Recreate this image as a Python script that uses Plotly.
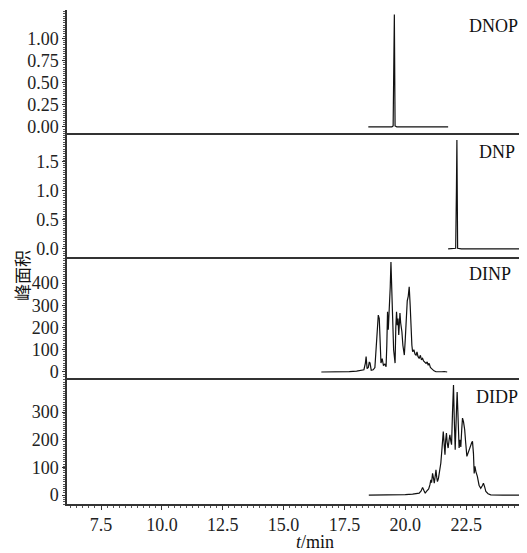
import plotly.graph_objects as go
from plotly.subplots import make_subplots

# ---- data ----
dnop_t = [18.48, 19.0, 19.45, 19.5, 19.52, 19.55, 19.58, 19.65, 20.5, 21.76]
dnop_y = [0.0, 0.0, 0.0, 0.01, 0.5, 1.27, 0.01, 0.0, 0.0, 0.0]

dnp_t = [21.76, 22.0, 22.07, 22.1, 22.12, 22.15, 22.3, 25.0]
dnp_y = [0.0, 0.0, 0.01, 1.0, 1.88, 0.01, 0.0, 0.0]

dinp_t = [16.55, 17.4, 17.7, 18.0, 18.2, 18.3, 18.36, 18.39, 18.43, 18.48, 18.52, 18.55,
          18.6, 18.68, 18.75, 18.8, 18.85, 18.89, 18.93, 18.96, 19.0, 19.05, 19.1, 19.16,
          19.21, 19.24, 19.27, 19.3, 19.34, 19.38, 19.41, 19.44, 19.48, 19.52, 19.55, 19.58,
          19.61, 19.64, 19.67, 19.7, 19.73, 19.76, 19.78, 19.81, 19.86, 19.9, 19.93, 19.96,
          20.0, 20.05, 20.08, 20.12, 20.16, 20.2, 20.23, 20.27, 20.3, 20.35, 20.4, 20.44,
          20.48, 20.52, 20.57, 20.62, 20.66, 20.71, 20.75, 20.8, 20.85, 20.9, 20.94, 20.98,
          21.03, 21.08, 21.12, 21.18, 21.26, 21.4, 21.5, 21.6, 21.72]
dinp_y = [0, 0, 2, 4, 6, 10, 40, 69, 15, 20, 45, 40,
          8, 10, 20, 120, 230, 256, 240, 120, 40, 60, 30, 35,
          24, 120, 271, 190, 260, 380, 494, 340, 243, 100, 60, 40,
          200, 271, 210, 240, 166, 230, 265, 220, 181, 120, 100, 76,
          150, 286, 320, 340, 383, 300, 181, 120, 91, 100, 80, 76,
          90, 70, 61, 75, 55, 61, 50, 45, 39, 45, 30, 39,
          20, 15, 9, 5, 1, 3, 1, 2, 0]

didp_t = [18.5, 19.5, 20.0, 20.3, 20.57, 20.65, 20.71, 20.76, 20.82, 20.87, 20.91, 20.96,
          21.01, 21.05, 21.08, 21.12, 21.16, 21.19, 21.23, 21.26, 21.29, 21.32, 21.36, 21.39,
          21.43, 21.46, 21.5, 21.53, 21.56, 21.6, 21.63, 21.66, 21.69, 21.72, 21.76, 21.8,
          21.83, 21.87, 21.9, 21.94, 21.98, 22.01, 22.05, 22.1, 22.13, 22.16, 22.19, 22.21,
          22.25, 22.28, 22.32, 22.35, 22.39, 22.42, 22.44, 22.48, 22.53, 22.57, 22.62, 22.68,
          22.73, 22.76, 22.8, 22.83, 22.86, 22.9, 22.96, 23.03, 23.1, 23.17, 23.21, 23.26,
          23.31, 23.4, 23.51, 24.0, 25.0]
didp_y = [0, 0, 2, 4, 7, 15, 28, 18, 7, 14, 19, 22,
          37, 55, 45, 79, 60, 43, 70, 91, 65, 49, 60, 73,
          95, 116, 160, 210, 230, 180, 146, 200, 224, 190, 170, 200,
          218, 195, 182, 300, 398, 280, 164, 300, 372, 300, 200, 170,
          200, 174, 240, 278, 265, 250, 236, 190, 140, 150, 164, 175,
          190, 194, 150, 78, 104, 85, 68, 36, 25, 35, 43, 30,
          13, 5, 1, 0, 0]

names = ["DNOP", "DNP", "DINP", "DIDP"]
series = [(dnop_t, dnop_y), (dnp_t, dnp_y), (dinp_t, dinp_y), (didp_t, didp_y)]
y_ticks = [[0.0, 0.25, 0.5, 0.75, 1.0], [0.0, 0.5, 1.0, 1.5], [0, 100, 200, 300, 400], [0, 100, 200, 300]]
y_fmt = [".2f", ".1f", "d", "d"]
y_ranges = [[-0.07, 1.32], [-0.14, 2.0], [-27, 517], [-32, 423]]
y_minor = [0.025, 0.04, 10, 8]
x_ticks = [7.5, 10.0, 12.5, 15.0, 17.5, 20.0, 22.5]

fig = make_subplots(rows=4, cols=1, shared_xaxes=True, vertical_spacing=0)

for i, (t, y) in enumerate(series):
    fig.add_trace(go.Scatter(x=t, y=y, mode="lines", line=dict(color="#111", width=1.2),
                             showlegend=False), row=i + 1, col=1)

domains = [[0.751, 1.0], [0.5, 0.751], [0.2551, 0.5], [0.0, 0.2551]]
font_serif = "Liberation Serif, Times New Roman, serif"
axis_col = "#333"

for i in range(4):
    yk = "yaxis" if i == 0 else f"yaxis{i+1}"
    xk = "xaxis" if i == 0 else f"xaxis{i+1}"
    fig.layout[yk].update(
        domain=domains[i], range=y_ranges[i], tickvals=y_ticks[i], tickformat=y_fmt[i],
        showgrid=False, zeroline=False, showline=True, linecolor=axis_col, linewidth=1.5,
        ticks="outside", ticklen=3, tickwidth=1, tickcolor=axis_col,
        minor=dict(dtick=y_minor[i], ticks="outside", ticklen=2.5, tickwidth=1, tickcolor="#555",
                   showgrid=False),
        tickfont=dict(family=font_serif, size=18, color="#222"),
        automargin=False,
    )
    last = (i == 3)
    fig.layout[xk].update(
        range=[6.1, 25.0], showgrid=False, zeroline=False, showline=True,
        linecolor=axis_col, linewidth=1.5,
        tickvals=x_ticks, tickformat=".1f", showticklabels=last,
        ticks="outside" if last else "", ticklen=4, tickwidth=1, tickcolor=axis_col,
        minor=dict(dtick=0.25, ticks="outside" if last else "", ticklen=2.5, tickwidth=1,
                   tickcolor="#555", showgrid=False),
        tickfont=dict(family=font_serif, size=18, color="#222"),
        automargin=False,
    )

# panel labels (right edge x, vertical centre y, in reference pixels)
label_px = [(520, 26), (517, 152), (513, 274), (520, 397)]
for i, name in enumerate(names):
    px, py = label_px[i]
    fig.add_annotation(x=(px - 67) / 460, y=(504 - py) / 494, xref="paper", yref="paper",
                       text=name, showarrow=False, xanchor="right", yanchor="middle",
                       font=dict(family=font_serif, size=18, color="#111"))

# axis titles
fig.add_annotation(x=(21 - 67) / 460, y=(504 - 276) / 494, xref="paper", yref="paper",
                   text="峰面积", textangle=-90, showarrow=False, xanchor="center", yanchor="middle",
                   borderpad=0, font=dict(family="Noto Sans CJK SC", size=17, color="#111"))
fig.add_annotation(x=(315 - 67) / 460, y=(504 - 542) / 494, xref="paper", yref="paper",
                   text="<i>t</i>/min", showarrow=False, xanchor="center", yanchor="middle",
                   borderpad=0, font=dict(family=font_serif, size=18, color="#111"))

# the page body has an 8px margin, so the figure is drawn 8px smaller and offset
fig.update_layout(width=519, height=545, margin=dict(l=59, r=0, t=2, b=49),
                  paper_bgcolor="white", plot_bgcolor="white")

fig.write_html("out.html")
